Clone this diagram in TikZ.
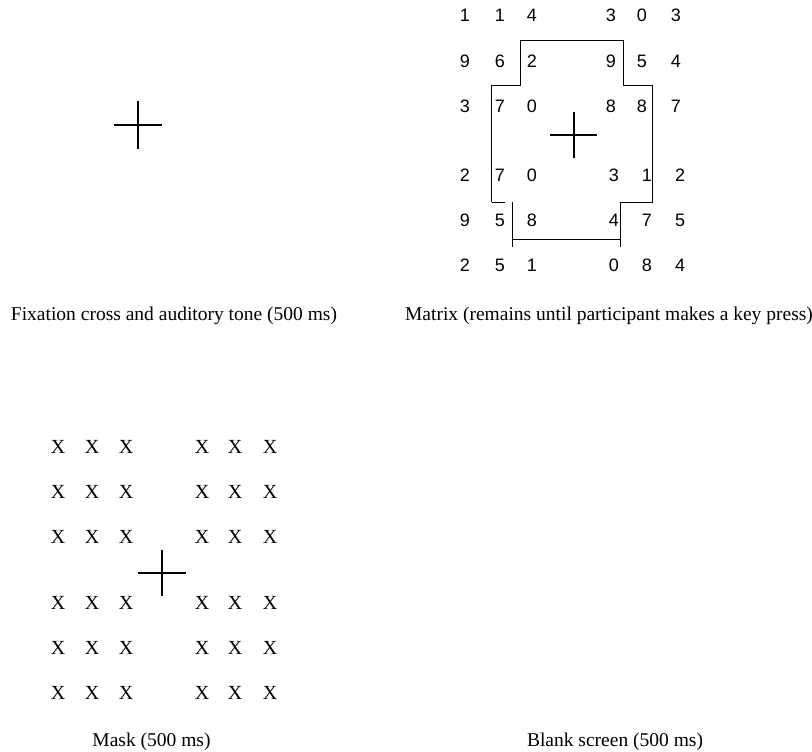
\documentclass[tikz,border=0pt]{standalone}
\usepackage{fontspec}
\setmainfont{Liberation Serif}
\newfontfamily\digitfont{Liberation Sans}
\tikzset{
  ln/.style={line width=1pt, black},
  crossln/.style={line width=1.3pt, black},
  digit/.style={inner sep=0pt, font=\digitfont\fontsize{18}{18}\selectfont},
  xmark/.style={inner sep=0pt, font=\fontsize{20}{20}\selectfont},
  caption/.style={inner sep=0pt, font=\fontsize{19.5}{22}\selectfont}
}
\begin{document}
\begin{tikzpicture}[x=1pt,y=-1pt]
\useasboundingbox (0,0) rectangle (812,752);
% ---- fixation cross 1
\coordinate (f1c) at (138,125);
\draw[crossln] ([xshift=-24pt]f1c) -- ([xshift=24pt]f1c);
\draw[crossln] ([yshift=24pt]f1c) -- ([yshift=-23.5pt]f1c);
\node[caption] (cap1) at (174,316) {Fixation cross and auditory tone (500 ms)};
% ---- matrix digits
\foreach \y/\row [count=\r] in {15/{1,1,4,3,0,3},61.7/{9,6,2,9,5,4},106.7/{3,7,0,8,8,7}}{
  \foreach \d [count=\c] in \row {
    \pgfmathsetmacro{\xx}{{465,500,532,611,642,676}[\c-1]}
    \node[digit] (m\r-\c) at (\xx,\y) {\d};
  }
}
\foreach \y/\row [count=\r from 4] in {175/{2,7,0,3,1,2},220/{9,5,8,4,7,5},265/{2,5,1,0,8,4}}{
  \foreach \d [count=\c] in \row {
    \pgfmathsetmacro{\xx}{{465,500,532,614,647,680}[\c-1]}
    \node[digit] (m\r-\c) at (\xx,\y) {\d};
  }
}
% ---- matrix outline
\draw[ln] (491.7,202.3) -- (491.7,85.7) -- (520.7,85.7) -- (520.7,41) -- (623.3,41) -- (623.3,85.7) -- (652.7,85.7) -- (652.7,202.3) -- (620.7,202.3) -- (620.7,246.7);
\draw[ln] (491.7,202.3) -- (505,202.3);
\draw[ln] (512.3,202.3) -- (512.3,246.7);
\draw[ln] (512.3,239.3) -- (620.7,239.3);
% ---- matrix cross
\coordinate (f2c) at (574,135);
\draw[crossln] ([xshift=-24pt]f2c) -- ([xshift=23pt]f2c);
\draw[crossln] ([yshift=23.3pt]f2c) -- ([yshift=-23.3pt]f2c);
\node[caption] (cap2) at (609,316) {Matrix (remains until participant makes a key press)};
% ---- mask
\foreach \yy [count=\r] in {447,492,537,603,648,693}{
  \foreach \xx [count=\c] in {58,92,126,202,235,270}{
    \node[xmark] (x\r-\c) at (\xx,\yy) {X};
  }
}
\coordinate (f3c) at (162,573);
\draw[crossln] ([xshift=-24pt]f3c) -- ([xshift=24pt]f3c);
\draw[crossln] ([yshift=23pt]f3c) -- ([yshift=-23pt]f3c);
\node[caption] (cap3) at (151.5,742) {Mask (500 ms)};
% ---- blank
\node[caption] (cap4) at (615,742) {Blank screen (500 ms)};
\end{tikzpicture}
\end{document}
